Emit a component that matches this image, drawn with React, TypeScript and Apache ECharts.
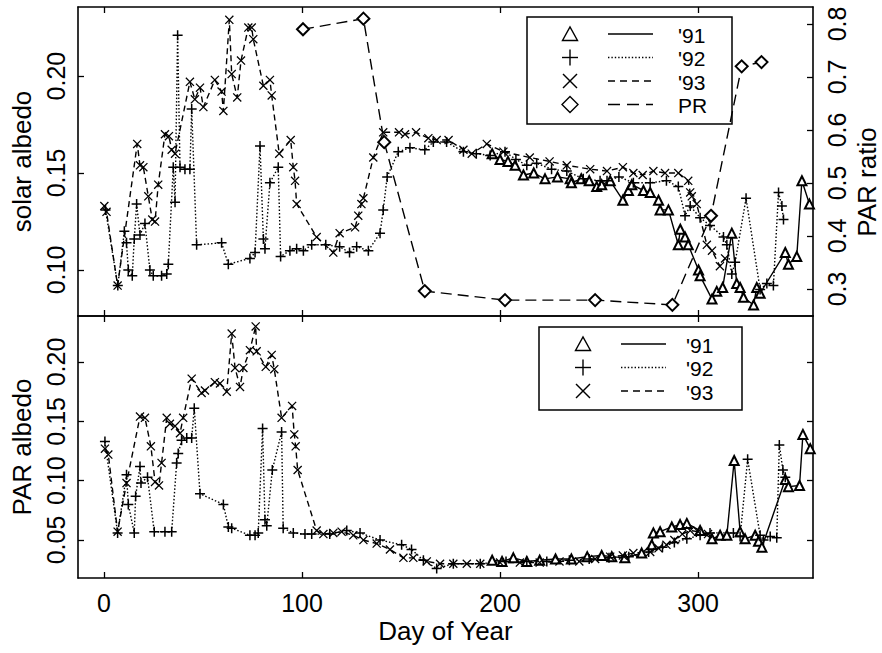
import React, { useEffect, useRef } from 'react';
import * as echarts from 'echarts';

// ---- tick labels ----
const dayTicks = [0, 100, 200, 300];
const solarTicks = [0.1, 0.15, 0.2];
const ratioTicks = [0.3, 0.4, 0.5, 0.6, 0.7, 0.8];
const parTicks = [0.05, 0.1, 0.15, 0.2];
const legendTopLabels = ["'91", "'92", "'93", 'PR'];
const legendBottomLabels = ["'91", "'92", "'93"];

// ---- top panel: solar albedo [day, albedo] ----
const solar91 = [
  [196, 0.16], [200, 0.157], [204, 0.156], [207.6, 0.154], [211.8, 0.149], [217, 0.15], [222.7, 0.147],
  [229, 0.148], [235.4, 0.147], [236, 0.145], [241, 0.147], [245, 0.146], [248.8, 0.143], [251.3, 0.144],
  [255.6, 0.146], [262, 0.136], [264.8, 0.141], [266.5, 0.144], [272.4, 0.141], [275.8, 0.14], [280, 0.136],
  [280.8, 0.131], [285, 0.131], [290, 0.113], [291, 0.121], [293.4, 0.117], [295, 0.113], [300.2, 0.1],
  [301, 0.097], [307, 0.085], [309.4, 0.089], [312.4, 0.091], [317, 0.119], [319.5, 0.093], [321.2, 0.091],
  [322.9, 0.086], [328, 0.082], [329.6, 0.091], [331.3, 0.088], [344, 0.109], [345.6, 0.103], [349.8, 0.107],
  [352.4, 0.146], [356.2, 0.134],
];
const solar92 = [
  [0.8, 0.131], [7, 0.092], [10.3, 0.12], [11.4, 0.114], [12.3, 0.1], [14.3, 0.097], [15.3, 0.116],
  [16.5, 0.134], [18.2, 0.118], [20.7, 0.124], [23.2, 0.1], [24.9, 0.097], [29.1, 0.097], [31.7, 0.098],
  [32.5, 0.103], [35, 0.153], [35.9, 0.135], [37.2, 0.221], [38.4, 0.153], [40.9, 0.152], [43.4, 0.152],
  [44.3, 0.183], [46.8, 0.113], [59.4, 0.114], [62.8, 0.103], [73.7, 0.106], [76.3, 0.109], [78.8, 0.164],
  [80.5, 0.116], [81.3, 0.111], [83.8, 0.145], [88, 0.153], [89.2, 0.107], [93.9, 0.11], [97.3, 0.111],
  [100.7, 0.11], [104.9, 0.113], [112, 0.113], [119, 0.112], [124, 0.109], [127.6, 0.112], [133.5, 0.11],
  [139.4, 0.119], [141, 0.131], [143, 0.148], [148.6, 0.161], [154.5, 0.163], [162, 0.162], [166.3, 0.166],
  [173, 0.166], [181.5, 0.161], [188, 0.16], [195, 0.159], [202.5, 0.161], [208, 0.157], [213.5, 0.154],
  [218.5, 0.155], [226, 0.152], [233.7, 0.151], [242, 0.147], [250.5, 0.146], [254, 0.146], [260, 0.148],
  [267.3, 0.145], [275.8, 0.145], [284, 0.146], [290, 0.143], [293.4, 0.128], [296, 0.133], [301, 0.127],
  [306, 0.123], [312.8, 0.117], [314.5, 0.113], [317, 0.098], [318.7, 0.104], [324.2, 0.137], [331.3, 0.09],
  [334.7, 0.093], [338, 0.092], [340.6, 0.14], [342.3, 0.133], [343.1, 0.126],
];
const solar93 = [
  [0.2, 0.133], [1.3, 0.13], [6.9, 0.092], [16.8, 0.165], [18.2, 0.154], [19.9, 0.153], [22.4, 0.138],
  [24.4, 0.126], [25.8, 0.125], [27.4, 0.144], [30.8, 0.17], [32.8, 0.169], [34.2, 0.162], [35.9, 0.16],
  [43.4, 0.197], [45.9, 0.188], [48.5, 0.194], [50.2, 0.184], [56, 0.198], [59.4, 0.192], [60.3, 0.182],
  [63.3, 0.229], [64.5, 0.201], [67.3, 0.189], [69.2, 0.208], [72.9, 0.225], [74.6, 0.225], [75.4, 0.219],
  [80.5, 0.195], [83.8, 0.198], [84.7, 0.19], [88.5, 0.16], [94.3, 0.167], [95.6, 0.153], [96.5, 0.146],
  [97.3, 0.134], [107.4, 0.117], [115.8, 0.109], [119, 0.119], [126.8, 0.122], [128.4, 0.128], [130, 0.134],
  [131, 0.137], [136, 0.158], [141, 0.171], [149, 0.171], [152, 0.17], [157.6, 0.171], [163.8, 0.168],
  [168, 0.167], [174, 0.167], [181.5, 0.162], [185.7, 0.16], [193.3, 0.165], [201.7, 0.161], [215, 0.158],
  [225, 0.156], [233.7, 0.154], [245.5, 0.152], [254, 0.151], [262, 0.153], [267.3, 0.15], [272, 0.149],
  [277.4, 0.151], [283.3, 0.15], [290, 0.15], [295, 0.146], [296, 0.14], [296.8, 0.138], [299.3, 0.134],
  [304.4, 0.113], [307, 0.11], [311, 0.102], [313.6, 0.106],
];
const parRatio = [
  [100.5, 0.79], [131, 0.81], [141.5, 0.577], [162, 0.296], [202.5, 0.279], [248, 0.279], [287, 0.27],
  [306.5, 0.438], [322, 0.72], [332, 0.728],
];

// ---- bottom panel: PAR albedo [day, albedo] ----
const par91 = [
  [196, 0.033], [201, 0.032], [206.7, 0.035], [213.5, 0.032], [220, 0.033], [228, 0.034], [236, 0.034],
  [244, 0.036], [251.3, 0.037], [256.4, 0.036], [263, 0.035], [271.5, 0.039], [276.6, 0.046], [277.4, 0.056],
  [280.8, 0.057], [286.7, 0.061], [290.9, 0.063], [294.3, 0.064], [301, 0.058], [307, 0.051], [311.1, 0.054],
  [314.5, 0.054], [318.2, 0.117], [321.2, 0.057], [323.7, 0.051], [328.8, 0.054], [330.5, 0.049],
  [332.2, 0.044], [344, 0.101], [345.6, 0.095], [351.2, 0.096], [352.9, 0.139], [356.6, 0.127],
];
const par92 = [
  [0.5, 0.133], [6.9, 0.056], [11.4, 0.105], [12.3, 0.08], [15.3, 0.056], [16, 0.087], [18.2, 0.112],
  [18.7, 0.098], [22, 0.103], [25.4, 0.057], [30.8, 0.057], [34.2, 0.057], [36.7, 0.115], [37.5, 0.123],
  [39.2, 0.134], [41.8, 0.136], [44.3, 0.136], [45.6, 0.161], [48.5, 0.089], [60.3, 0.08], [62.8, 0.061],
  [64.5, 0.06], [73.7, 0.054], [76.3, 0.054], [77.9, 0.056], [80.1, 0.144], [81.3, 0.067], [82.2, 0.062],
  [85, 0.109], [89.7, 0.141], [90.5, 0.06], [95.6, 0.056], [101.5, 0.055], [104.9, 0.055], [114, 0.055],
  [122.6, 0.058], [129.3, 0.056], [139.4, 0.05], [150.3, 0.046], [155.3, 0.042], [161.3, 0.033], [168, 0.026],
  [176.4, 0.03], [190, 0.03], [203, 0.032], [213.5, 0.032], [223.6, 0.032], [235, 0.033], [245, 0.034],
  [255, 0.035], [265, 0.036], [275, 0.04], [282, 0.044], [288, 0.048], [294.3, 0.051], [301, 0.054],
  [306, 0.056], [317.8, 0.056], [321.2, 0.053], [325, 0.118], [331.3, 0.054], [333, 0.05], [336.4, 0.053],
  [339.7, 0.052], [341, 0.13], [342.8, 0.109], [344, 0.103],
];
const par93 = [
  [0.5, 0.127], [2.2, 0.122], [6.9, 0.057], [11.4, 0.098], [18.2, 0.154], [20.7, 0.153], [23.7, 0.129],
  [25.8, 0.099], [27.8, 0.096], [29.1, 0.115], [31.7, 0.153], [33.3, 0.148], [35.9, 0.146], [38.4, 0.14],
  [40, 0.153], [44.3, 0.186], [49.3, 0.174], [51, 0.176], [56, 0.183], [58.6, 0.182], [62, 0.175],
  [64.5, 0.224], [66.2, 0.195], [68.7, 0.179], [70.4, 0.195], [73.7, 0.21], [76.6, 0.23], [77.1, 0.209],
  [81.7, 0.196], [84.7, 0.206], [86, 0.194], [89.7, 0.153], [95, 0.163], [96.1, 0.139], [96.8, 0.129],
  [97.8, 0.109], [107.4, 0.058], [110.8, 0.055], [115.8, 0.056], [120, 0.057], [125.9, 0.054], [131, 0.05],
  [137.7, 0.047], [144.4, 0.042], [151.2, 0.035], [156.2, 0.035], [163, 0.032], [169.7, 0.03], [176.4, 0.03],
  [183.2, 0.03], [190, 0.03], [200, 0.031], [210, 0.031], [220, 0.031], [230, 0.032], [240, 0.032],
  [248, 0.034], [255.6, 0.036], [262, 0.037], [267.3, 0.039], [275.8, 0.04], [280, 0.043], [284, 0.046],
  [288, 0.05], [292, 0.055], [296, 0.058], [300, 0.057], [305, 0.055],
];

const FONT = '"Liberation Sans", Arial, Helvetica, sans-serif';
const PLUS = 'path://M4.25,0H5.75V4.25H10V5.75H5.75V10H4.25V5.75H0V4.25H4.25Z';
const CROSS = 'path://M0,1L1,0L10,9L9,10ZM9,0L10,1L1,10L0,9Z';

const X_MIN = -13.1;
const X_MAX = 358;

function xAxisDef(gridIndex: number, position: 'top' | 'bottom', labels: boolean, name?: string) {
  return {
    type: 'value', gridIndex, position, min: X_MIN, max: X_MAX,
    name: name || '', nameLocation: 'middle', nameGap: 40,
    nameTextStyle: { fontFamily: FONT, fontSize: 26, color: '#000' },
    axisLine: { show: true, onZero: false, lineStyle: { color: '#000', width: 1.6 } },
    axisTick: { show: true, inside: true, length: 6, customValues: dayTicks, lineStyle: { color: '#000', width: 1.3 } },
    axisLabel: { show: labels, customValues: dayTicks, margin: 12, fontFamily: FONT, fontSize: 25, color: '#000' },
    splitLine: { show: false },
  };
}

function yAxisDef(gridIndex: number, position: 'left' | 'right', min: number, max: number, ticks: number[],
  labels: boolean, digits: number, margin: number) {
  return {
    type: 'value', gridIndex, position, min, max,
    axisLine: { show: true, onZero: false, lineStyle: { color: '#000', width: 1.6 } },
    axisTick: { show: true, inside: true, length: 6, customValues: ticks, lineStyle: { color: '#000', width: 1.3 } },
    axisLabel: {
      show: labels, customValues: ticks, rotate: 90, margin,
      formatter: (v: number) => v.toFixed(digits),
      fontFamily: FONT, fontSize: 25, color: '#000',
    },
    splitLine: { show: false },
  };
}

function lineSeries(name: string, data: number[][], xi: number, yi: number, kind: string) {
  const base: any = {
    name, type: 'line', data, xAxisIndex: xi, yAxisIndex: yi, showSymbol: true, showAllSymbol: true,
    animation: false, silent: true, z: 3,
  };
  if (kind === '91') {
    base.symbol = 'emptyTriangle'; base.symbolSize = 9;
    base.lineStyle = { color: '#000', width: 1.4, type: 'solid' };
    base.itemStyle = { color: '#000', borderWidth: 1.3 };
  } else if (kind === '92') {
    base.symbol = PLUS; base.symbolSize = 10;
    base.lineStyle = { color: '#000', width: 1.4, type: [1.5, 2] };
    base.itemStyle = { color: '#000', borderWidth: 0 };
  } else if (kind === '93') {
    base.symbol = CROSS; base.symbolSize = 9;
    base.lineStyle = { color: '#000', width: 1.4, type: [6, 4] };
    base.itemStyle = { color: '#000', borderWidth: 0 };
  } else {
    base.symbol = 'emptyDiamond'; base.symbolSize = 12;
    base.lineStyle = { color: '#000', width: 1.4, type: [11, 6] };
    base.itemStyle = { color: '#000', borderWidth: 1.3 };
  }
  return base;
}

function marker(kind: string, cx: number, cy: number) {
  const st = { stroke: '#000', lineWidth: 1.4, fill: 'none' };
  if (kind === '91') {
    return [{ type: 'polygon', shape: { points: [[cx - 7.5, cy + 6.5], [cx + 7.5, cy + 6.5], [cx, cy - 7]] }, style: st }];
  }
  if (kind === '92') {
    return [
      { type: 'line', shape: { x1: cx - 8, y1: cy, x2: cx + 8, y2: cy }, style: st },
      { type: 'line', shape: { x1: cx, y1: cy - 8, x2: cx, y2: cy + 8 }, style: st },
    ];
  }
  if (kind === '93') {
    return [
      { type: 'line', shape: { x1: cx - 7, y1: cy - 7, x2: cx + 7, y2: cy + 7 }, style: st },
      { type: 'line', shape: { x1: cx + 7, y1: cy - 7, x2: cx - 7, y2: cy + 7 }, style: st },
    ];
  }
  return [{ type: 'polygon', shape: { points: [[cx, cy - 8], [cx + 8, cy], [cx, cy + 8], [cx - 8, cy]] }, style: st }];
}

const dashFor: Record<string, any> = { '91': null, '92': [1.4, 2], '93': [7, 5], PR: [12, 7] };
const kinds = ['91', '92', '93', 'PR'];

function legend(bx: number, by: number, bw: number, bh: number, rowY: number[], mx: number, l1: number, l2: number,
  tx: number, labels: string[]) {
  const els: any[] = [
    { type: 'rect', shape: { x: bx, y: by, width: bw, height: bh }, style: { fill: 'none', stroke: '#000', lineWidth: 1.5 } },
  ];
  labels.forEach((lab, i) => {
    const k = kinds[i];
    const y = rowY[i];
    els.push(...marker(k, mx, y));
    els.push({
      type: 'line', shape: { x1: l1, y1: y, x2: l2, y2: y },
      style: { stroke: '#000', lineWidth: 1.3, lineDash: dashFor[k] || undefined },
    });
    els.push({
      type: 'text', x: tx, y: y + 1,
      style: {
        text: lab, fill: '#000', fontFamily: FONT, fontSize: 21, lineHeight: 21,
        align: 'left', verticalAlign: 'middle',
      },
    });
  });
  return els;
}

export default function App() {
  const ref = useRef<HTMLDivElement>(null);
  useEffect(() => {
    if (!ref.current) return;
    const chart = echarts.init(ref.current, null, { renderer: 'svg' });
    const option: any = {
      animation: false,
      backgroundColor: '#fff',
      grid: [
        { left: 78, right: 69, top: 7, height: 309 },
        { left: 78, right: 69, top: 316, height: 262 },
      ],
      xAxis: [
        xAxisDef(0, 'bottom', false),
        xAxisDef(0, 'top', false),
        xAxisDef(1, 'bottom', true, 'Day of Year'),
        xAxisDef(1, 'top', false),
      ],
      yAxis: [
        {
          ...yAxisDef(0, 'left', 0.0763, 0.2356, solarTicks, true, 2, 10),
          name: 'solar albedo', nameLocation: 'middle', nameGap: 38, nameRotate: 90,
          nameTextStyle: { fontFamily: FONT, fontSize: 26, color: '#000' },
        },
        yAxisDef(0, 'right', 0.249, 0.832, ratioTicks, true, 1, 11),
        {
          ...yAxisDef(1, 'left', 0.018, 0.2388, parTicks, true, 2, 10),
          name: 'PAR albedo', nameLocation: 'middle', nameGap: 42, nameRotate: 90,
          nameTextStyle: { fontFamily: FONT, fontSize: 26, color: '#000' },
        },
        yAxisDef(1, 'right', 0.018, 0.2388, parTicks, false, 2, 10),
      ],
      series: [
        lineSeries("'91", solar91, 0, 0, '91'),
        lineSeries("'92", solar92, 0, 0, '92'),
        lineSeries("'93", solar93, 0, 0, '93'),
        lineSeries('PR', parRatio, 0, 1, 'PR'),
        lineSeries("'91 PAR", par91, 2, 2, '91'),
        lineSeries("'92 PAR", par92, 2, 2, '92'),
        lineSeries("'93 PAR", par93, 2, 2, '93'),
      ],
      graphic: [
        ...legend(527, 17, 205, 107, [34, 57.5, 81, 104.5], 570, 608, 653, 678, legendTopLabels),
        ...legend(539, 327, 203, 83, [344, 367.5, 391], 583, 621, 666, 686, legendBottomLabels),
        {
          type: 'text', x: 867, y: 182, rotation: Math.PI / 2,
          style: { text: 'PAR ratio', fill: '#000', fontFamily: FONT, fontSize: 26, align: 'center', verticalAlign: 'middle' },
        },
      ],
    };
    chart.setOption(option);
    return () => chart.dispose();
  }, []);
  return <div ref={ref} style={{ position: 'fixed', left: 0, top: 0, width: 882, height: 653, background: '#fff' }} />;
}
